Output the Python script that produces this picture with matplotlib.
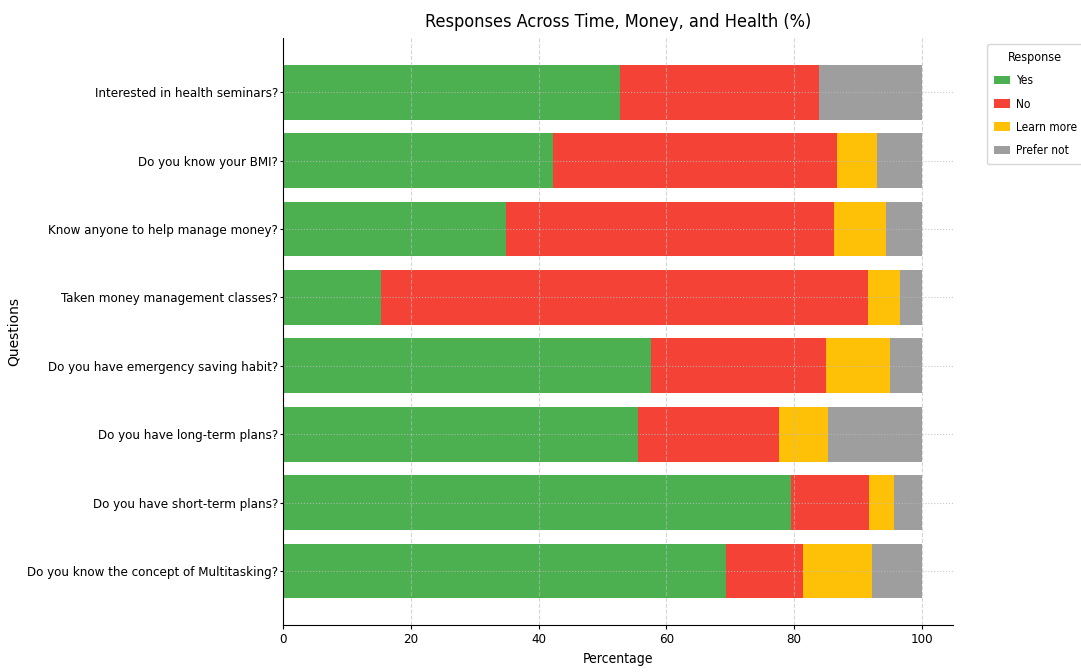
import matplotlib
matplotlib.use("Agg")
import matplotlib.pyplot as plt
from matplotlib import font_manager

# questions, top to bottom as shown
questions = [
    "Interested in health seminars?",
    "Do you know your BMI?",
    "Know anyone to help manage money?",
    "Taken money management classes?",
    "Do you have emergency saving habit?",
    "Do you have long-term plans?",
    "Do you have short-term plans?",
    "Do you know the concept of Multitasking?",
]
responses = ["Yes", "No", "Learn more", "Prefer not"]
yes = [52.7, 42.3, 34.9, 15.3, 57.6, 55.6, 79.5, 69.3]
no = [31.3, 44.4, 51.4, 76.3, 27.4, 22.0, 12.2, 12.2]
learn_more = [0.0, 6.4, 8.1, 5.0, 10.0, 7.8, 4.0, 10.7]
prefer_not = [16.0, 6.9, 5.6, 3.4, 5.0, 14.6, 4.3, 7.8]
colors = ["#4CAF50", "#F44336", "#FFC107", "#9E9E9E"]

# the reference text looks like a narrow sans; use a condensed face if one exists
stretch = "normal"
fam = "Roboto"
for f in font_manager.fontManager.ttflist:
    if f.name == "DejaVu Sans" and f.stretch == "condensed" and f.weight in (400, "normal"):
        fam, stretch = "DejaVu Sans", "condensed"
        break
narrow = [fam, "DejaVu Sans"]

fig = plt.figure(figsize=(10.81, 6.72), dpi=100)
ax = fig.add_axes([0.262, 0.070, 0.620, 0.873])

# draw bottom-up so first question ends on top
qs = questions[::-1]
series = [yes[::-1], no[::-1], learn_more[::-1], prefer_not[::-1]]
left = [0.0] * len(qs)
for name, vals, c in zip(responses, series, colors):
    ax.barh(qs, vals, left=left, color=c, height=0.8, label=name)
    left = [l + v for l, v in zip(left, vals)]

ax.set_xlim(0, 105)
ax.set_xticks([0, 20, 40, 60, 80, 100])
ax.xaxis.grid(True, linestyle="--", color="#bbbbbb", alpha=0.6, linewidth=0.8)
ax.yaxis.grid(True, linestyle=":", color="#bbbbbb", alpha=0.8, linewidth=0.8)
ax.spines["top"].set_visible(False)
ax.spines["right"].set_visible(False)
ax.tick_params(axis="y", length=2, pad=1.5)
ax.tick_params(axis="x", length=3, pad=3)

for lab in ax.get_yticklabels() + ax.get_xticklabels():
    lab.set_family(narrow)
    lab.set_stretch(stretch)
    lab.set_fontsize(9.5)

ax.set_title("Responses Across Time, Money, and Health (%)", family=narrow,
             stretch=stretch, fontsize=13, pad=8)
ax.set_xlabel("Percentage", family=narrow, stretch=stretch, fontsize=10)
ax.set_ylabel("Questions", fontsize=10, labelpad=5)

leg = ax.legend(title="Response", loc="upper left", bbox_to_anchor=(1.05, 0.99),
                borderaxespad=0, borderpad=0.6,
                prop={"family": narrow, "stretch": stretch, "size": 8.6},
                handlelength=1.3, handletextpad=0.5, labelspacing=0.85)
leg.get_title().set_family(narrow)
leg.get_title().set_stretch(stretch)
leg.get_title().set_fontsize(9)

fig.savefig("out.png", dpi=100)
